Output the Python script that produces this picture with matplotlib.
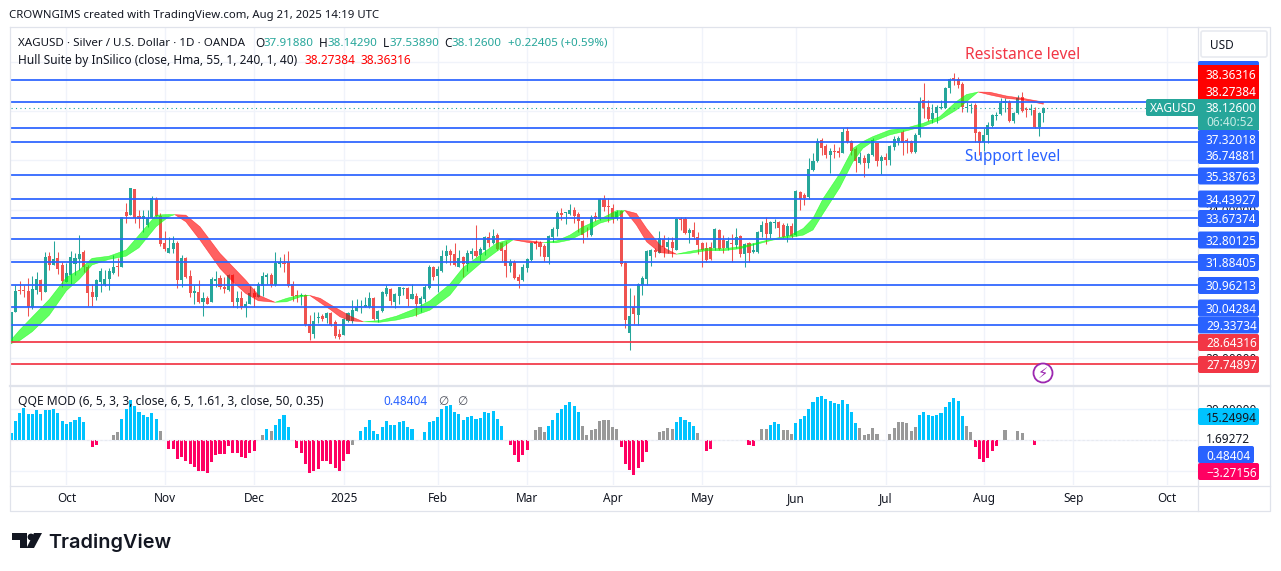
import numpy as np
import matplotlib
matplotlib.use("Agg")
import matplotlib.pyplot as plt
from matplotlib.patches import FancyBboxPatch, Rectangle, Polygon, Circle

##=============================================================================
## DATA

opens = [28.65,29.87,30.74,30.74,30.70,30.04,30.74,31.15,30.68,32.12,
	31.76,32.04,31.76,31.07,31.34,31.79,31.99,32.29,31.69,30.66,
	30.47,31.08,30.95,31.19,31.42,31.72,31.69,33.92,33.78,34.84,
	33.74,33.61,33.38,33.65,34.43,33.74,32.66,32.26,32.42,32.66,
	31.15,32.04,31.31,30.64,30.66,30.28,30.42,30.26,31.11,31.24,
	30.88,30.74,31.35,30.27,30.42,30.04,30.18,30.64,30.47,30.91,
	31.28,31.34,30.93,31.81,31.85,31.88,30.98,30.53,30.50,30.54,
	29.37,28.96,29.61,29.70,29.61,29.83,29.46,28.96,28.93,29.50,
	29.50,29.91,30.04,30.07,30.04,30.42,29.57,29.89,30.58,30.79,
	30.27,30.50,30.80,30.81,30.38,30.52,30.18,30.37,30.83,31.66,
	31.31,31.53,32.12,32.33,32.20,31.69,32.07,31.82,32.20,32.33,
	32.15,32.37,32.88,32.66,32.97,32.64,32.37,31.72,31.89,31.29,
	31.15,31.62,31.96,32.71,32.67,32.53,32.07,32.91,33.20,33.88,
	33.85,33.82,33.99,33.82,33.56,33.07,32.97,33.74,33.61,34.43,
	34.15,34.05,33.65,33.96,31.85,29.00,30.04,29.73,30.95,31.18,
	32.12,32.37,32.26,32.80,32.47,32.70,32.37,33.61,33.61,33.04,
	33.18,32.88,32.66,32.45,32.47,32.43,33.18,32.77,32.43,32.67,
	32.57,32.93,32.20,32.65,32.29,32.29,33.10,33.45,33.02,33.45,
	33.51,33.40,32.93,33.35,32.97,34.73,34.60,34.50,35.61,35.99,
	36.82,36.58,36.22,36.39,36.39,36.31,37.20,36.78,36.45,35.91,
	36.11,35.88,36.22,36.69,35.99,36.12,36.01,36.53,36.80,37.16,
	36.82,36.78,36.35,37.03,38.45,38.15,37.66,37.90,38.11,38.13,
	38.92,39.32,39.28,39.09,38.13,38.20,38.24,37.16,36.76,37.03,
	37.41,37.80,37.88,38.31,38.38,37.60,37.93,38.55,38.08,38.04,
	38.04,37.34,37.9188]

closes = [29.87,30.70,30.70,30.71,30.04,30.79,31.19,30.68,32.08,31.76,
	31.99,31.60,31.11,31.45,32.07,32.04,32.20,31.67,30.64,30.47,
	31.15,31.51,31.19,31.51,31.68,31.69,33.72,33.75,34.87,33.65,
	33.63,33.74,33.68,34.46,33.74,32.61,32.39,32.46,32.65,31.15,
	32.03,31.26,30.64,30.72,30.26,30.42,30.20,31.19,31.19,30.85,
	30.77,31.37,30.27,30.42,30.04,30.20,30.61,30.47,31.00,31.31,
	31.34,30.93,31.85,31.88,31.82,30.91,30.50,30.49,30.53,29.31,
	29.02,29.49,29.65,29.56,29.80,29.33,28.89,28.85,29.57,29.80,
	29.93,30.04,30.10,30.14,30.42,29.57,29.89,30.68,30.83,30.30,
	30.58,30.85,30.84,30.38,30.58,30.18,30.41,30.85,31.66,31.29,
	31.60,32.12,32.33,32.17,31.76,32.03,31.80,32.23,32.33,32.12,
	32.42,32.88,32.66,32.93,32.39,32.33,31.72,31.89,31.22,31.11,
	31.69,31.99,32.66,32.63,32.47,32.07,32.93,33.23,33.88,33.79,
	33.89,34.00,33.74,33.56,32.97,33.04,33.72,33.61,34.43,34.12,
	34.10,33.65,33.92,31.80,29.53,29.69,29.78,31.00,31.22,32.33,
	32.37,32.28,32.84,32.47,32.70,32.43,33.61,33.58,33.07,33.18,
	32.90,32.57,32.37,31.96,32.00,33.22,32.39,32.43,32.73,32.63,
	32.88,32.20,32.63,32.26,32.37,33.10,33.38,33.02,33.50,33.51,
	33.24,32.90,33.35,32.95,34.77,34.42,34.46,35.63,35.96,36.78,
	36.49,36.22,36.39,36.35,36.31,37.16,36.76,36.39,35.99,36.15,
	35.91,36.24,36.82,35.99,36.12,36.01,36.58,36.85,36.89,36.72,
	36.78,36.35,37.03,38.38,38.11,37.66,37.93,38.18,38.18,38.93,
	39.30,39.26,39.05,38.15,38.15,38.24,37.12,36.72,37.03,37.43,
	37.84,37.84,38.31,38.42,37.60,37.91,38.51,38.01,38.04,38.08,
	37.34,37.93,38.126]

highs = [29.87,30.95,31.11,30.95,31.24,31.31,31.46,31.19,32.30,32.30,
	32.74,32.30,31.89,31.83,32.33,32.23,32.98,32.37,31.76,31.00,
	31.18,31.62,31.55,31.62,32.16,32.03,33.72,34.29,34.87,34.84,
	34.00,34.00,33.99,34.56,34.50,33.88,33.14,32.91,32.93,32.73,
	32.16,32.10,31.55,30.95,31.15,30.68,30.50,31.29,31.50,31.35,
	31.29,31.39,31.39,30.70,30.72,30.30,30.91,30.81,31.08,31.46,
	31.45,31.42,32.30,32.07,32.20,32.33,31.11,30.74,30.61,30.58,
	29.73,29.87,29.87,29.76,29.85,29.87,29.53,29.15,29.60,29.87,
	30.34,30.37,30.34,30.48,30.66,30.48,29.93,30.72,30.96,30.81,
	30.61,30.88,30.88,30.88,31.00,30.64,30.50,30.97,31.75,31.72,
	31.72,32.37,32.57,32.39,32.64,32.37,32.12,32.37,32.43,33.38,
	32.48,32.93,33.11,33.20,33.04,32.70,32.75,31.99,31.96,31.39,
	31.82,32.03,32.70,32.77,32.74,32.61,32.97,33.29,33.96,34.08,
	33.89,34.23,34.10,33.92,33.58,33.29,33.77,33.92,34.46,34.60,
	34.46,34.23,33.99,33.99,31.93,30.81,30.54,31.04,31.31,32.37,
	32.40,32.45,33.12,32.97,32.90,32.90,33.65,33.69,33.69,33.25,
	33.51,33.11,32.70,32.70,32.70,33.26,33.20,32.97,32.90,33.01,
	33.27,32.97,32.66,32.68,32.66,33.13,33.55,33.69,33.55,33.61,
	33.55,33.47,33.47,33.47,34.80,34.77,34.69,36.11,36.31,36.89,
	36.89,36.66,36.49,36.66,36.53,37.30,37.34,36.82,36.53,36.35,
	36.22,36.28,36.89,36.72,36.22,36.28,36.62,36.99,36.99,37.23,
	36.89,36.82,37.09,38.55,39.12,38.45,38.28,38.24,38.45,38.96,
	39.32,39.53,39.39,39.19,38.38,38.31,38.31,37.20,37.30,37.57,
	37.88,37.97,38.51,38.51,38.45,37.97,38.65,38.76,38.15,38.28,
	38.15,37.97,38.1429]

lows = [28.58,29.87,30.58,30.47,29.70,29.96,30.58,30.34,30.68,31.56,
	31.76,31.39,30.88,31.07,31.01,31.34,31.55,31.49,30.10,30.10,
	30.34,30.68,30.91,30.74,31.39,31.31,31.69,33.47,33.78,33.45,
	33.25,33.11,33.28,33.65,33.72,32.53,32.34,32.26,32.23,30.81,
	30.88,31.22,30.47,30.18,30.24,29.70,30.18,30.26,30.88,30.77,
	30.64,30.72,30.07,30.00,29.96,29.66,30.18,30.07,30.45,30.50,
	30.99,30.88,30.91,31.69,31.48,30.88,30.31,30.27,30.14,29.29,
	28.72,28.79,29.42,29.49,29.42,29.29,28.81,28.76,28.92,29.46,
	29.42,29.91,29.80,30.07,30.00,29.53,29.46,29.87,30.50,30.14,
	30.00,30.18,30.54,30.10,30.38,29.69,29.87,30.27,30.80,31.15,
	30.68,31.49,31.85,31.76,31.73,31.66,31.26,31.53,31.99,32.07,
	31.89,32.16,32.48,32.61,32.37,31.93,31.29,31.49,31.18,30.84,
	31.12,31.49,31.93,32.39,32.12,31.93,31.80,32.70,32.93,33.58,
	33.42,33.78,33.47,33.11,32.66,32.88,32.93,33.56,33.58,33.96,
	33.51,33.47,33.58,31.72,29.19,28.31,29.37,29.32,30.54,30.95,
	31.72,32.07,32.23,32.09,32.26,32.09,32.37,33.18,33.00,32.66,
	32.81,32.20,31.69,31.89,31.96,32.37,32.37,32.23,32.37,31.90,
	32.43,32.09,31.66,31.89,32.26,32.26,32.90,32.63,32.84,33.25,
	32.90,32.84,32.70,32.84,32.95,33.99,34.19,34.42,35.58,35.95,
	36.22,36.08,35.50,36.08,36.12,36.28,36.69,36.22,35.54,35.85,
	35.31,35.68,36.18,35.77,35.45,35.81,35.81,36.42,36.62,36.22,
	36.28,36.31,36.31,36.96,37.70,37.61,37.53,37.53,38.08,38.11,
	38.72,39.05,38.92,37.97,37.97,37.90,36.76,36.22,36.39,36.72,
	37.37,37.63,37.84,37.97,37.57,37.53,37.88,37.97,37.74,37.84,
	37.30,36.99,37.5389]

## Hull band, fast and slow edge; green where fast is above slow
hull_bar = [0,2,5,9,13,16,19,23,27,30,34,37,38.4,41,44.3,49,52,55,58,61.9,
	64.6,67.7,70,72.5,74.8,77.1,79.5,82.6,86.5,90.4,94.3,98.2,102.9,106,109.9,113.8,117,117.7,121.6,124.8,
	127.9,131,134.1,138,141.9,143.9,146.6,149,152.1,154,156,159,163,167,170.9,174.8,178.6,182.6,185.7,188,
	190.4,194.3,197.4,199.7,202,206,210,213.8,217.7,221.6,224,226.7,229.5,233.3,237.3,242]
hull_fast = [28.72,29.12,29.66,30.37,31.26,31.56,32.03,32.12,32.37,32.97,33.78,33.81,33.80,33.51,32.77,31.62,31.08,30.61,30.31,30.25,
	30.41,30.54,30.53,30.23,29.96,29.66,29.50,29.46,29.51,29.69,29.96,30.31,30.99,31.66,32.15,32.64,32.80,32.78,32.66,32.67,
	32.74,32.97,33.31,33.61,33.96,33.97,33.38,32.70,32.26,32.23,32.20,32.31,32.43,32.42,32.50,32.66,32.82,32.96,33.24,33.65,
	34.46,35.47,36.49,36.76,36.96,37.23,37.32,37.50,37.77,38.38,38.67,38.77,38.65,38.51,38.45,38.27384]
hull_slow = [28.58,28.69,29.06,29.73,30.72,31.18,31.76,31.99,32.12,32.46,33.31,33.72,33.80,33.78,33.31,32.23,31.69,31.15,30.54,30.25,
	30.27,30.46,30.53,30.41,30.16,29.93,29.69,29.46,29.44,29.53,29.69,29.93,30.54,31.22,31.80,32.30,32.70,32.78,32.74,32.67,
	32.66,32.77,33.04,33.45,33.65,33.97,33.85,33.24,32.57,32.37,32.20,32.23,32.34,32.34,32.42,32.60,32.77,32.88,32.97,33.18,
	33.85,34.90,35.95,36.49,36.76,37.03,37.20,37.37,37.63,38.04,38.38,38.77,38.76,38.61,38.51,38.36316]

## Horizontal levels
blue_levels = [39.27,38.36316,37.32018,36.74881,35.38763,34.43927,33.67374,32.80125,31.88405,30.96213,30.04284,29.33734]
red_levels = [28.64316,27.74897]
last_close = 38.126

## QQE histogram by colour
qqe_blue_bar = [0,1,2,3,4,5,6,7,8,9,10,11,12,13,14,15,16,17,26,27,28,29,30,31,32,33,34,60,62,63,64,65,
	82,83,84,85,86,87,88,89,90,91,92,93,94,97,98,99,100,101,102,103,104,105,106,107,108,109,110,111,112,113,114,115,
	126,127,128,129,130,131,132,133,156,157,158,159,160,178,179,180,184,185,186,187,188,189,190,191,192,193,194,195,196,197,198,
	213,214,215,216,217,218,219,220,221,222,223]
qqe_blue_val = [4.3,11.9,17.1,20.3,16.9,16.9,19.0,16.4,19.0,19.0,19.7,17.1,11.9,10.2,11.5,13.0,14.5,11.2,13.6,19.7,25.5,21.6,17.9,16.2,14.5,17.5,13.6,7.1,9.7,13.2,15.8,8.0,
	5.4,8.0,12.5,5.4,3.9,8.0,11.9,9.3,9.3,11.2,11.9,8.0,7.1,4.8,11.2,11.9,14.5,19.7,21.6,22.3,17.7,16.4,12.5,14.5,15.1,13.2,13.8,17.7,17.1,18.4,13.2,8.6,
	8.6,12.5,17.1,19.7,22.3,24.2,21.6,17.7,11.2,14.5,12.5,11.2,8.6,9.3,11.2,9.9,10.6,13.2,15.1,19.7,24.2,27.5,28.1,26.2,24.9,23.6,22.9,25.5,22.9,17.7,10.6,
	15.8,17.7,15.8,15.1,15.8,17.1,21.0,24.2,26.8,24.9,15.1]
qqe_grey_bar = [24,25,35,59,61,80,123,124,125,134,135,136,137,138,139,140,141,142,152,153,154,155,161,176,177,181,182,183,
	199,200,201,202,203,206,207,208,209,210,211,212,224,225,233,236,237]
qqe_grey_val = [3.2,4.8,5.4,3.2,5.4,-3.7,6.1,8.0,4.8,8.6,2.8,6.1,6.7,11.9,12.5,12.5,8.0,6.7,4.8,5.4,7.4,6.7,4.1,6.7,6.7,6.1,6.1,3.5,
	7.4,2.8,3.5,7.4,3.5,3.5,7.4,11.2,11.2,10.6,5.4,8.0,8.6,4.8,6.1,5.4,4.1]
qqe_pink_bar = [19,20,37,38,39,40,41,42,43,44,45,46,47,48,49,50,51,52,53,54,55,56,57,
	67,68,69,70,71,72,73,74,75,76,77,78,79,117,118,119,120,121,143,144,145,146,147,148,149,163,164,173,174,
	226,227,228,229,230,231,240]
qqe_pink_val = [-4.8,-3.7,-5.8,-6.3,-12.8,-11.5,-13.6,-15.8,-17.9,-20.5,-20.5,-21.8,-14.7,-10.2,-9.5,-9.5,-4.3,-8.4,-8.9,-11.5,-12.1,-8.9,-7.6,
	-5.6,-8.9,-16.0,-21.8,-20.5,-18.8,-14.1,-14.1,-15.6,-18.2,-20.5,-14.1,-9.5,-3.7,-10.2,-14.7,-10.2,-6.9,-5.0,-16.0,-19.9,-23.1,-18.6,-14.7,-8.2,-7.6,-6.3,-3.7,-4.3,
	-5.0,-12.8,-14.7,-12.1,-7.6,-4.3,-3.7]

## Month ticks as bar numbers
month_bars = [13,36,57,78,100,121,141,162,184,205,228,249,271]
month_labels = ["Oct","Nov","Dec","2025","Feb","Mar","Apr","May","Jun","Jul","Aug","Sep","Oct"]

price_grid = [28,30,32,34,36,38,40]
price_grid_labels = ["28.00000","","","34.00000","","",""]
qqe_grid = [-20,0,20]
qqe_grid_labels = ["","","20.00000"]

##=============================================================================
## SET-UP

plt.rcParams["font.family"] = ["Noto Sans","DejaVu Sans"]
W, H = 1281, 571
col_up, col_dn = "#26a69a", "#ef5350"
col_blue, col_red = "#2962ff", "#f23645"
col_grid, col_frame, col_text = "#f0f3fa", "#e0e3eb", "#131722"
fs = 8.5

fig = plt.figure(figsize=(W/100.0, H/100.0), dpi=100, facecolor="white")

def pane(x0, y0, x1, y1):
	return fig.add_axes([x0/W, 1-y1/H, (x1-x0)/W, (y1-y0)/H])

px_per_bar = 4.266
xmax = (1197.5-11)/px_per_bar

##---------------------------------------------------------------
## PRICE PANE

ax = pane(11, 28, 1197.5, 385.5)
bars = np.arange(len(opens))
o, c, h, l = [np.array(a) for a in (opens, closes, highs, lows)]
up = c >= o
cols = np.where(up, col_up, col_dn)

ax.vlines(bars, l, h, colors=cols, lw=0.75, zorder=2)
ax.bar(bars, np.maximum(np.abs(c-o), 0.03), bottom=np.minimum(o, c), width=0.72, color=cols, lw=0, zorder=3)

hb, hf, hs = np.array(hull_bar), np.array(hull_fast), np.array(hull_slow)
ax.fill_between(hb, hf, hs, where=hf>=hs, interpolate=True, color="#00ff00", alpha=0.62, lw=0.4, zorder=4)
ax.fill_between(hb, hf, hs, where=hf<=hs, interpolate=True, color="#ff0000", alpha=0.62, lw=0.4, zorder=4)

ax.axhline(last_close, color=col_up, lw=0.8, ls=(0, (1, 3)), zorder=5)
for lev in blue_levels:
	ax.axhline(lev, color=col_blue, lw=1.25, zorder=6)
for lev in red_levels:
	ax.axhline(lev, color=col_red, lw=1.25, zorder=6)

ax.set_xlim(0, xmax)
ax.set_ylim(27.749-21.5/24.68, 27.749+336.0/24.68)
ax.set_xticks(month_bars)
ax.tick_params(axis="x", length=0, labelbottom=False)
ax.set_yticks(price_grid, price_grid_labels)
ax.yaxis.tick_right()
ax.tick_params(axis="y", length=0, pad=6, labelsize=fs, labelcolor=col_text)
ax.grid(color=col_grid, lw=1.0, zorder=0)
ax.set_axisbelow(True)
for s in ax.spines.values():
	s.set_visible(False)

##---------------------------------------------------------------
## QQE PANE

ax2 = pane(11, 386.5, 1197.5, 485)
ax2.bar(qqe_blue_bar, qqe_blue_val, width=0.72, color="#00c3ff", lw=0, zorder=3)
ax2.bar(qqe_grey_bar, qqe_grey_val, width=0.72, color="#999999", lw=0, zorder=3)
ax2.bar(qqe_pink_bar, qqe_pink_val, width=0.72, color="#ff0062", lw=0, zorder=3)
ax2.axhline(0, color="#e8eaf0", lw=0.8, ls=(0, (2, 2)), zorder=4)

ax2.set_xlim(0, xmax)
ax2.set_ylim(-45.5/1.55, 53.5/1.55)
ax2.set_xticks(month_bars, month_labels)
ax2.tick_params(axis="x", length=0, pad=5, labelsize=fs, labelcolor=col_text)
ax2.set_yticks(qqe_grid, qqe_grid_labels)
ax2.yaxis.tick_right()
ax2.tick_params(axis="y", length=0, pad=6, labelsize=fs, labelcolor=col_text)
ax2.grid(color=col_grid, lw=1.0, zorder=0)
ax2.set_axisbelow(True)
for s in ax2.spines.values():
	s.set_visible(False)
for t in ax2.get_xticklabels():
	if t.get_text() == "2025":
		t.set_fontweight("bold")

##---------------------------------------------------------------
## OVERLAY: frame, labels, legends, logo, all placed in pixels

ov = fig.add_axes([0, 0, 1, 1], facecolor="none")
ov.set_xlim(0, W)
ov.set_ylim(H, 0)
ov.axis("off")

## Frame
ov.plot([10,1269.5,1269.5,10,10], [27,27,511,511,27], color=col_frame, lw=0.9)
ov.plot([1197.5,1197.5], [27,511], color=col_frame, lw=0.9)
ov.plot([10,1269.5], [386,386], color=col_frame, lw=1.6)
ov.plot([10,1269.5], [485.5,485.5], color=col_frame, lw=0.9)

def box(x0, y0, x1, y1, color, ec="none", lw=0, z=5):
	ov.add_patch(FancyBboxPatch((x0+1.5, y0+1.5), x1-x0-3, y1-y0-3, boxstyle="round,pad=1.5,rounding_size=2",
		fc=color, ec=ec, lw=lw, zorder=z))

## Noto Sans sits a little high when centred, hence the small offset
def txt(x, y, s, color=col_text, size=fs, z=7, **kw):
	ov.text(x, y+size*0.12, s, color=color, fontsize=size, va="center", zorder=z, **kw)

## USD box
box(1201, 31, 1267, 57, "white", ec="#e8eaf0", lw=1.2)
txt(1210, 44, "USD")

## Price scale tags
box(1198, 61, 1259, 75, col_blue)
ov.add_patch(Rectangle((1198,65), 61, 34, fc="#ff0000", ec="none", zorder=5))
ov.add_patch(Rectangle((1198,99), 61, 31, fc=col_up, ec="none", zorder=5))
box(1198, 130, 1259, 164, col_blue)
tag_y = [176,199,218.5,240,262.5,285.5,308,325]
tag_text = ["35.38763","34.43927","33.67374","32.80125","31.88405","30.96213","30.04284","29.33734"]
for y, s in zip(tag_y, tag_text):
	box(1198, y-8.5, 1259, y+8.5, col_blue)
	txt(1206, y, s, color="white")
box(1198, 334, 1259, 351, col_red)
box(1198, 356, 1259, 373, col_red)
txt(1206, 342.5, "28.64316", color="white")
txt(1206, 364.5, "27.74897", color="white")
txt(1206, 74, "38.36316", color="white")
txt(1206, 91, "38.27384", color="white")
txt(1206, 107, "38.12600", color="white")
txt(1206, 121, "06:40:52", color="#c5ebe6")
txt(1206, 139, "37.32018", color="white")
txt(1206, 155, "36.74881", color="white")

## Symbol tag on the last price
box(1146, 99, 1199, 116, col_up)
txt(1150, 107.5, "XAGUSD", color="white")

## QQE scale tags
box(1198, 408, 1259, 425, "#00c3ff")
txt(1206, 417, "15.24994")
txt(1206, 438, "1.69272")
box(1198, 446, 1254, 463, col_blue)
txt(1206, 455, "0.48404", color="white")
box(1198, 463, 1259, 480, "#ff0062")
txt(1206, 472, "\u22123.27156", color="white")

## Header and legends
txt(9, 15, "CROWNGIMS created with TradingView.com, Aug 21, 2025 14:19 UTC", size=8.2)
txt(18, 42, "XAGUSD \u00b7 Silver / U.S. Dollar \u00b7 1D \u00b7 OANDA", size=8.35)
for x, s in zip([255,319,383,444], ["O","H","L","C"]):
	txt(x, 42, s)
for x, s in zip([263,327,389,452,508], ["37.91880","38.14290","37.53890","38.12600","+0.22405 (+0.59%)"]):
	txt(x, 42, s, color=col_up, size=8.35)
txt(18, 59, "Hull Suite by InSilico (close, Hma, 55, 1, 240, 1, 40)", size=8.6)
txt(304.5, 59, "38.27384", color="#ff0000")
txt(360.5, 59, "38.36316", color="#ff0000")
txt(18, 400, "QQE MOD (6, 5, 3, 3, close, 6, 5, 1.61, 3, close, 50, 0.35)", size=8.7)
txt(383, 400, "0.48404", color=col_blue)
txt(438, 400, "\u2205", color="#50535e")
txt(457, 400, "\u2205", color="#50535e")

## Drawn labels
txt(965, 54, "Resistance level", color=col_red, size=11.2)
txt(965, 156, "Support level", color=col_blue, size=11.1)

## Alert icon
ov.add_patch(Circle((1043,373), 9.5, fc="white", ec="#9c27b0", lw=1.3, zorder=7))
ov.text(1043, 373, "\u26a1", color="#9c27b0", fontsize=10.5, ha="center", va="center", family="DejaVu Sans", zorder=8)

## TradingView logo
ov.add_patch(Polygon([(12,533),(27,533),(27,548),(20,548),(20,540),(12,540)], fc="#131722", ec="none"))
ov.add_patch(Circle((31,537), 3.4, fc="#131722", ec="none"))
ov.add_patch(Polygon([(34,548),(26.5,548),(34,533),(42,533)], fc="#131722", ec="none"))
txt(48, 541, "TradingView", size=14.3, family="Inter", fontweight="semibold")

fig.savefig("out.png", dpi=100)
